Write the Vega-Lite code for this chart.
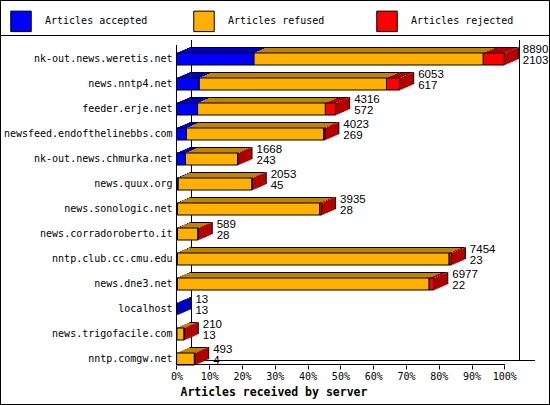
{
  "$schema": "https://vega.github.io/schema/vega-lite/v6.json",
  "width": 550,
  "height": 405,
  "autosize": "none",
  "padding": 0,
  "background": "white",
  "config": {"view": {"stroke": "black", "strokeWidth": 2}},
  "layer": [
    {
      "data": {"values": [{}]},
      "layer": [
        {
          "mark": {"type": "rule", "color": "black", "yOffset": -23.5},
          "encoding": {
            "x": {"datum": -4786.7, "type": "quantitative"},
            "x2": {"datum": 10129.4},
            "y": {"datum": "nk-out.news.weretis.net", "type": "nominal"}
          }
        },
        {
          "mark": {"type": "rule", "color": "black", "yOffset": -19, "y2Offset": 1},
          "encoding": {
            "x": {"datum": 406.8, "type": "quantitative"},
            "y": {"datum": "nk-out.news.weretis.net", "type": "nominal"},
            "y2": {"datum": "nntp.comgw.net"}
          }
        },
        {
          "mark": {"type": "rule", "color": "black", "yOffset": -19, "y2Offset": 1},
          "encoding": {
            "x": {"datum": 9302.2, "type": "quantitative"},
            "y": {"datum": "nk-out.news.weretis.net", "type": "nominal"},
            "y2": {"datum": "nntp.comgw.net"}
          }
        },
        {
          "mark": {"type": "rule", "color": "black", "yOffset": 1.5},
          "encoding": {
            "x": {"datum": 406.8, "type": "quantitative"},
            "x2": {"datum": 9722.6},
            "y": {"datum": "nntp.comgw.net", "type": "nominal"}
          }
        }
      ]
    },
    {
      "data": {
        "values": [
          {"server": "nk-out.news.weretis.net", "accepted": 2103, "refused": 6217, "rejected": 570},
          {"server": "news.nntp4.net", "accepted": 617, "refused": 5078, "rejected": 358},
          {"server": "feeder.erje.net", "accepted": 572, "refused": 3466, "rejected": 278},
          {"server": "newsfeed.endofthelinebbs.com", "accepted": 269, "refused": 3724, "rejected": 30},
          {"server": "nk-out.news.chmurka.net", "accepted": 243, "refused": 1417, "rejected": 8},
          {"server": "news.quux.org", "accepted": 45, "refused": 2003, "rejected": 5},
          {"server": "news.sonologic.net", "accepted": 28, "refused": 3857, "rejected": 50},
          {"server": "news.corradoroberto.it", "accepted": 28, "refused": 555, "rejected": 6},
          {"server": "nntp.club.cc.cmu.edu", "accepted": 23, "refused": 7371, "rejected": 60},
          {"server": "news.dne3.net", "accepted": 22, "refused": 6830, "rejected": 125},
          {"server": "localhost", "accepted": 13, "refused": 0, "rejected": 0},
          {"server": "news.trigofacile.com", "accepted": 13, "refused": 193, "rejected": 4},
          {"server": "nntp.comgw.net", "accepted": 4, "refused": 481, "rejected": 8}
        ]
      },
      "transform": [
        {"fold": ["accepted", "refused", "rejected"], "as": ["type", "count"]},
        {"filter": "datum.count > 0"},
        {"stack": "count", "groupby": ["server"], "sort": [{"field": "type", "order": "ascending"}], "as": ["v0", "v1"]},
        {"joinaggregate": [{"op": "max", "field": "v1", "as": "vend"}], "groupby": ["server"]}
      ],
      "encoding": {
        "y": {
          "field": "server",
          "type": "nominal",
          "sort": null,
          "scale": {
            "type": "band",
            "domain": ["nk-out.news.weretis.net", "news.nntp4.net", "feeder.erje.net", "newsfeed.endofthelinebbs.com", "nk-out.news.chmurka.net", "news.quux.org", "news.sonologic.net", "news.corradoroberto.it", "nntp.club.cc.cmu.edu", "news.dne3.net", "localhost", "news.trigofacile.com", "nntp.comgw.net"],
            "range": [53, 365],
            "paddingInner": 0.52,
            "paddingOuter": 0
          },
          "axis": {
            "title": null,
            "offset": -176,
            "domain": false,
            "ticks": false,
            "labelPadding": 4,
            "labelFont": "DejaVu Sans Mono",
            "labelFontSize": 10,
            "labelColor": "black"
          }
        },
        "x": {
          "field": "v0",
          "type": "quantitative",
          "scale": {"domain": [-4786.7, 10129.4], "nice": false, "zero": false},
          "axis": {
            "title": "Articles received by server",
            "offset": -40,
            "values": [0, 889, 1778, 2667, 3556, 4445, 5334, 6223, 7112, 8001, 8890],
            "labelExpr": "format(datum.value / 8890, '.0%')",
            "domain": false,
            "grid": false,
            "tickSize": 4,
            "tickColor": "black",
            "labelPadding": 2,
            "labelFlush": false,
            "labelFont": "DejaVu Sans Mono",
            "labelFontSize": 10,
            "labelColor": "black",
            "titleFont": "DejaVu Sans Mono",
            "titleFontSize": 11.5,
            "titleFontWeight": "bold",
            "titleColor": "black",
            "titleAnchor": "start",
            "titleAlign": "left",
            "titleBaseline": "middle",
            "titleX": 180,
            "titleY": 27
          }
        },
        "x2": {"field": "v1"}
      },
      "layer": [
        {
          "mark": {"type": "bar", "height": 1, "xOffset": 1.17, "x2Offset": 1.17, "yOffset": -6.5},
          "encoding": {"fill": {"field": "type", "type": "nominal", "scale": {"domain": ["rejected", "refused", "accepted"], "range": ["#b00000", "#c08400", "#0000c0"]}, "legend": null}}
        },
        {
          "mark": {"type": "bar", "height": 1, "xOffset": 3.5, "x2Offset": 3.5, "yOffset": -7.5},
          "encoding": {"fill": {"field": "type", "type": "nominal", "legend": null}}
        },
        {
          "mark": {"type": "bar", "height": 1, "xOffset": 5.83, "x2Offset": 5.83, "yOffset": -8.5},
          "encoding": {"fill": {"field": "type", "type": "nominal", "legend": null}}
        },
        {
          "mark": {"type": "bar", "height": 1, "xOffset": 8.17, "x2Offset": 8.17, "yOffset": -9.5},
          "encoding": {"fill": {"field": "type", "type": "nominal", "legend": null}}
        },
        {
          "mark": {"type": "bar", "height": 1, "xOffset": 10.5, "x2Offset": 10.5, "yOffset": -10.5},
          "encoding": {"fill": {"field": "type", "type": "nominal", "legend": null}}
        },
        {
          "mark": {"type": "bar", "height": 1, "color": "black", "xOffset": 12.83, "x2Offset": 12.83, "yOffset": -11.5},
          "encoding": {}
        },
        {
          "transform": [{"filter": "datum.v1 == datum.vend"}],
          "mark": {"type": "bar", "xOffset": 0, "x2Offset": 2.6, "yOffset": -0.43, "y2Offset": -0.43},
          "encoding": {"x": {"field": "v1", "type": "quantitative"}, "x2": {"field": "v1"}, "fill": {"field": "type", "type": "nominal", "legend": null}}
        },
        {
          "transform": [{"filter": "datum.v1 == datum.vend"}],
          "mark": {"type": "bar", "xOffset": 2, "x2Offset": 4.6, "yOffset": -1.29, "y2Offset": -1.29},
          "encoding": {"x": {"field": "v1", "type": "quantitative"}, "x2": {"field": "v1"}, "fill": {"field": "type", "type": "nominal", "legend": null}}
        },
        {
          "transform": [{"filter": "datum.v1 == datum.vend"}],
          "mark": {"type": "bar", "xOffset": 4, "x2Offset": 6.6, "yOffset": -2.14, "y2Offset": -2.14},
          "encoding": {"x": {"field": "v1", "type": "quantitative"}, "x2": {"field": "v1"}, "fill": {"field": "type", "type": "nominal", "legend": null}}
        },
        {
          "transform": [{"filter": "datum.v1 == datum.vend"}],
          "mark": {"type": "bar", "xOffset": 6, "x2Offset": 8.6, "yOffset": -3, "y2Offset": -3},
          "encoding": {"x": {"field": "v1", "type": "quantitative"}, "x2": {"field": "v1"}, "fill": {"field": "type", "type": "nominal", "legend": null}}
        },
        {
          "transform": [{"filter": "datum.v1 == datum.vend"}],
          "mark": {"type": "bar", "xOffset": 8, "x2Offset": 10.6, "yOffset": -3.86, "y2Offset": -3.86},
          "encoding": {"x": {"field": "v1", "type": "quantitative"}, "x2": {"field": "v1"}, "fill": {"field": "type", "type": "nominal", "legend": null}}
        },
        {
          "transform": [{"filter": "datum.v1 == datum.vend"}],
          "mark": {"type": "bar", "xOffset": 10, "x2Offset": 12.6, "yOffset": -4.71, "y2Offset": -4.71},
          "encoding": {"x": {"field": "v1", "type": "quantitative"}, "x2": {"field": "v1"}, "fill": {"field": "type", "type": "nominal", "legend": null}}
        },
        {
          "transform": [{"filter": "datum.v1 == datum.vend"}],
          "mark": {"type": "bar", "xOffset": 12, "x2Offset": 14, "yOffset": -5.57, "y2Offset": -5.57},
          "encoding": {"x": {"field": "v1", "type": "quantitative"}, "x2": {"field": "v1"}, "fill": {"field": "type", "type": "nominal", "legend": null}}
        },
        {
          "transform": [{"filter": "datum.v1 == datum.vend"}],
          "mark": {"type": "bar", "color": "black", "xOffset": 13.5, "x2Offset": 14.5, "yOffset": -6, "y2Offset": -6},
          "encoding": {"x": {"field": "v1", "type": "quantitative"}, "x2": {"field": "v1"}}
        },
        {
          "mark": {"type": "bar", "stroke": "black", "strokeWidth": 1},
          "encoding": {
            "color": {
              "field": "type",
              "type": "nominal",
              "scale": {"domain": ["accepted", "refused", "rejected"], "range": ["#0000ff", "#ffb000", "#ff0000"]},
              "legend": {
                "orient": "none",
                "legendX": 10,
                "legendY": 10,
                "direction": "horizontal",
                "columns": 3,
                "gridAlign": "all",
                "columnPadding": 43,
                "title": null,
                "symbolType": "square",
                "symbolSize": 420,
                "symbolStrokeColor": "black",
                "symbolStrokeWidth": 1,
                "symbolOpacity": 1,
                "labelOffset": 13,
                "labelFont": "DejaVu Sans Mono",
                "labelFontSize": 10,
                "labelColor": "black",
                "labelExpr": "'Articles ' + datum.label"
              }
            }
          }
        },
        {
          "transform": [{"filter": "datum.v1 == datum.vend"}],
          "mark": {"type": "text", "align": "left", "baseline": "middle", "dx": 18.5, "dy": -9.5, "font": "Liberation Sans", "fontSize": 11.5, "color": "black"},
          "encoding": {"x": {"field": "v1", "type": "quantitative"}, "x2": null, "text": {"field": "v1", "type": "quantitative", "format": "d"}}
        },
        {
          "transform": [{"filter": "datum.v1 == datum.vend"}],
          "mark": {"type": "text", "align": "left", "baseline": "middle", "dx": 18.5, "dy": 2, "font": "Liberation Sans", "fontSize": 11.5, "color": "black"},
          "encoding": {"x": {"field": "v1", "type": "quantitative"}, "x2": null, "text": {"field": "accepted", "type": "quantitative", "format": "d"}}
        }
      ]
    },
    {
      "data": {"values": [{}]},
      "layer": [
        {
          "mark": {"type": "rule", "color": "black", "yOffset": -14, "y2Offset": 6},
          "encoding": {
            "x": {"datum": 0, "type": "quantitative"},
            "y": {"datum": "nk-out.news.weretis.net", "type": "nominal"},
            "y2": {"datum": "nntp.comgw.net"}
          }
        },
        {
          "mark": {"type": "rule", "color": "black", "yOffset": 5.5},
          "encoding": {
            "x": {"datum": 0, "type": "quantitative"},
            "x2": {"datum": 8909},
            "y": {"datum": "nntp.comgw.net", "type": "nominal"}
          }
        }
      ]
    }
  ]
}
